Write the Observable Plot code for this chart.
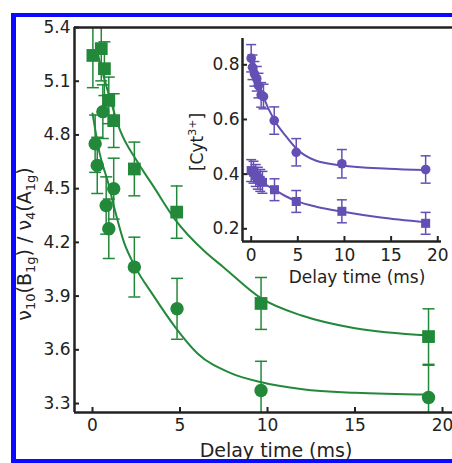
<!DOCTYPE html>
<html><head><meta charset="utf-8">
<script src="https://cdn.jsdelivr.net/npm/d3@7"></script>
<script src="https://cdn.jsdelivr.net/npm/@observablehq/plot@0.6"></script>
<style>
html,body{margin:0;padding:0;background:#fff;}
#wrap{position:relative;width:452px;height:463px;overflow:hidden;background:#fff;}
#main{position:absolute;left:0;top:0;}
#inset{position:absolute;left:170px;top:28px;}
#border{position:absolute;left:11px;top:13px;width:520px;height:442px;border-style:solid;border-color:#0a0aff;border-width:4px 0 4px 5px;pointer-events:none;}
</style></head><body>
<div id="wrap"><div id="main"></div><div id="inset"></div><div id="border"></div></div>
<script>
// ---------- Main panel data (green) ----------
const sqX   = [0.02, 0.5, 0.68, 0.93, 1.21, 2.39, 4.81, 9.63, 19.2];
const sqY   = [5.244, 5.282, 5.17, 4.993, 4.88, 4.61, 4.369, 3.859, 3.674];
const sqErr = [0.18, 0.18, 0.15, 0.13, 0.15, 0.15, 0.146, 0.145, 0.155];

const ciX   = [0.15, 0.27, 0.59, 0.78, 0.93, 1.21, 2.39, 4.83, 9.63, 19.2];
const ciY   = [4.751, 4.63, 4.93, 4.406, 4.276, 4.5, 4.062, 3.829, 3.373, 3.334];
const ciErr = [0.16, 0.157, 0.15, 0.16, 0.166, 0.17, 0.167, 0.17, 0.163, 0.18];

// fitted curves
const upFitX = [0.3, 0.8, 1.6, 2.5, 3.5, 4.7, 6.4, 7.5, 9.6, 12, 15, 19.2];
const upFitY = [5.25, 5.07, 4.82, 4.66, 4.51, 4.33, 4.15, 4.06, 3.89, 3.79, 3.72, 3.68];
const loFitX = [0, 0.4, 0.9, 1.2, 1.8, 2.4, 3.5, 4.7, 6, 7.9, 9.6, 12, 15, 19.2];
const loFitY = [4.92, 4.70, 4.53, 4.41, 4.20, 4.07, 3.90, 3.73, 3.58, 3.47, 3.42, 3.38, 3.36, 3.35];

const mainXTicks = [0, 5, 10, 15, 20];
const mainYTicks = [3.3, 3.6, 3.9, 4.2, 4.5, 4.8, 5.1, 5.4];
const mainXDomain = [-1.03, 20.57];
const mainYDomain = [3.25, 5.4];

// ---------- Inset data (purple) ----------
const icX   = [0, 0.14, 0.35, 0.6, 0.78, 1.07, 1.32, 2.47, 4.83, 9.72, 18.7];
const icY   = [0.824, 0.791, 0.767, 0.749, 0.724, 0.69, 0.684, 0.596, 0.48, 0.438, 0.417];
const icErr = [0.05, 0.045, 0.045, 0.045, 0.045, 0.045, 0.045, 0.05, 0.05, 0.052, 0.05];

const isX   = [0, 0.25, 0.49, 0.71, 0.97, 1.21, 2.5, 4.83, 9.72, 18.7];
const isY   = [0.413, 0.407, 0.395, 0.385, 0.377, 0.37, 0.343, 0.3, 0.264, 0.22];
const isErr = [0.04, 0.04, 0.04, 0.04, 0.04, 0.04, 0.04, 0.04, 0.042, 0.04];

const icFitX = [0, 0.5, 1.3, 2.5, 3.7, 4.8, 6.9, 9.7, 14.7, 18.7];
const icFitY = [0.82, 0.77, 0.684, 0.596, 0.54, 0.495, 0.45, 0.432, 0.42, 0.415];
const isFitX = [0, 0.5, 1.2, 2.5, 3.65, 4.8, 7.2, 9.7, 13.7, 18.7];
const isFitY = [0.41, 0.392, 0.37, 0.343, 0.32, 0.302, 0.279, 0.263, 0.242, 0.224];

const insetXTicks = [0, 5, 10, 15, 20];
const insetYTicks = [0.2, 0.4, 0.6, 0.8];
const insetXDomain = [-0.93, 20.4];
const insetYDomain = [0.1535, 0.8963];

// ---------- labels ----------
const xLabel = "Delay time (ms)";
const mainYLabelParts = [["ν",0],["10",1],["(B",0],["1g",1],[") / ν",0],["4",1],["(A",0],["1g",1],[")",0]];
const insetYLabelParts = [["[Cyt",0],["3+",-1],["]",0]];

const green = "#23893a";
const purple = "#6450b4";
const axisColor = "#222";

const zip = (xs, ys, es) => xs.map((x, i) => ({x, y: ys[i], e: es ? es[i] : 0}));
const capSymbol = {draw(ctx, size) { const r = Math.sqrt(size / Math.PI); ctx.moveTo(-r, 0); ctx.lineTo(r, 0); }};

function errMarks(data, color, capR, sw) {
  return [
    Plot.ruleX(data, {x: "x", y1: d => d.y - d.e, y2: d => d.y + d.e, stroke: color, strokeWidth: sw, clip: true}),
    Plot.dot(data, {x: "x", y: d => d.y + d.e, symbol: capSymbol, r: capR, stroke: color, fill: "none", strokeWidth: sw, clip: true}),
    Plot.dot(data, {x: "x", y: d => d.y - d.e, symbol: capSymbol, r: capR, stroke: color, fill: "none", strokeWidth: sw, clip: true})
  ];
}

// ---------- Main plot ----------
const mW = 452, mH = 463, mL = 74, mR = 0, mT = 27, mB = 51;
const squares = zip(sqX, sqY, sqErr), circles = zip(ciX, ciY, ciErr);
const main = Plot.plot({
  width: mW, height: mH, marginLeft: mL, marginRight: mR, marginTop: mT, marginBottom: mB,
  style: {fontFamily: "DejaVu Sans, sans-serif", fontSize: "17px", color: axisColor, background: "transparent"},
  x: {domain: mainXDomain},
  y: {domain: mainYDomain},
  marks: [
    ...errMarks(squares, green, 6, 1.5),
    ...errMarks(circles, green, 6, 1.5),
    Plot.line(zip(upFitX, upFitY), {x: "x", y: "y", curve: "monotone-x", stroke: green, strokeWidth: 2}),
    Plot.line(zip(loFitX, loFitY), {x: "x", y: "y", curve: "monotone-x", stroke: green, strokeWidth: 2}),
    Plot.dot(squares, {x: "x", y: "y", symbol: "square", r: 7.2, fill: green, stroke: "none"}),
    Plot.dot(circles, {x: "x", y: "y", symbol: "circle", r: 6.7, fill: green, stroke: "none"}),
    Plot.ruleX(mainXTicks, {x: d => d, insetTop: (mH - mT - mB) - 5, stroke: axisColor, strokeWidth: 2}),
    Plot.ruleY(mainYTicks, {y: d => d, insetRight: (mW - mL - mR) - 5, stroke: axisColor, strokeWidth: 2}),
    Plot.ruleX([mainXDomain[0]], {stroke: axisColor, strokeWidth: 2.5}),
    Plot.ruleY([mainYDomain[0]], {stroke: axisColor, strokeWidth: 2.5}),
    Plot.ruleY([mainYDomain[1]], {stroke: axisColor, strokeWidth: 2.5}),
    Plot.axisX({ticks: mainXTicks, tickSize: 0, tickPadding: 6, label: null, tickFormat: d3.format("d")}),
    Plot.axisY({ticks: mainYTicks, tickSize: 0, tickPadding: 4, label: null, tickFormat: d3.format(".1f")})
  ]
});
document.getElementById("main").appendChild(main);
{
  const s = d3.select(main);
  s.append("text").attr("x", 276).attr("y", 457).attr("text-anchor", "middle")
    .attr("fill", axisColor).style("font-size", "19px").text(xLabel);
  const t = s.append("text").attr("transform", "translate(31,244) rotate(-90)")
    .attr("text-anchor", "middle").attr("fill", axisColor).style("font-size", "19px");
  let prev = 0;
  for (const [txt, sub] of mainYLabelParts) {
    const ts = t.append("tspan").text(txt);
    if (sub) ts.style("font-size", "13px");
    ts.attr("dy", (sub ? 4 : 0) - prev);
    prev = sub ? 4 : 0;
  }
}

// ---------- Inset ----------
const iW = 282, iH = 262, iL = 72, iR = 11, iT = 10, iB = 49;
const icirc = zip(icX, icY, icErr), isq = zip(isX, isY, isErr);
const inset = Plot.plot({
  width: iW, height: iH, marginLeft: iL, marginRight: iR, marginTop: iT, marginBottom: iB,
  style: {fontFamily: "DejaVu Sans, sans-serif", fontSize: "17px", color: axisColor, background: "transparent"},
  x: {domain: insetXDomain},
  y: {domain: insetYDomain},
  marks: [
    ...errMarks(icirc, purple, 5, 1.5),
    ...errMarks(isq, purple, 5, 1.5),
    Plot.line(zip(icFitX, icFitY), {x: "x", y: "y", curve: "monotone-x", stroke: purple, strokeWidth: 2}),
    Plot.line(zip(isFitX, isFitY), {x: "x", y: "y", curve: "monotone-x", stroke: purple, strokeWidth: 2}),
    Plot.dot(icirc, {x: "x", y: "y", symbol: "circle", r: 4.8, fill: purple, stroke: "none"}),
    Plot.dot(isq, {x: "x", y: "y", symbol: "square", r: 5.1, fill: purple, stroke: "none"}),
    Plot.ruleX(insetXTicks, {x: d => d, insetTop: (iH - iT - iB) - 5, stroke: axisColor, strokeWidth: 2}),
    Plot.ruleY(insetYTicks, {y: d => d, insetRight: (iW - iL - iR) - 5, stroke: axisColor, strokeWidth: 2}),
    Plot.ruleX([insetXDomain[0]], {stroke: axisColor, strokeWidth: 2.5}),
    Plot.ruleY([insetYDomain[0]], {stroke: axisColor, strokeWidth: 2.5}),
    Plot.axisX({ticks: insetXTicks, tickSize: 0, tickPadding: 7, label: null, tickFormat: d3.format("d")}),
    Plot.axisY({ticks: insetYTicks, tickSize: 0, tickPadding: 3, label: null, tickFormat: d3.format(".1f")})
  ]
});
document.getElementById("inset").appendChild(inset);
{
  const s = d3.select(inset);
  s.append("text").attr("x", 187).attr("y", 255).attr("text-anchor", "middle")
    .attr("fill", axisColor).style("font-size", "17px").text(xLabel);
  const t = s.append("text").attr("transform", "translate(33,114) rotate(-90)")
    .attr("text-anchor", "middle").attr("fill", axisColor).style("font-size", "17px");
  let prev = 0;
  for (const [txt, sup] of insetYLabelParts) {
    const ts = t.append("tspan").text(txt);
    const off = sup ? -7 : 0;
    if (sup) ts.style("font-size", "11px");
    ts.attr("dy", off - prev);
    prev = off;
  }
}
</script></body></html>
